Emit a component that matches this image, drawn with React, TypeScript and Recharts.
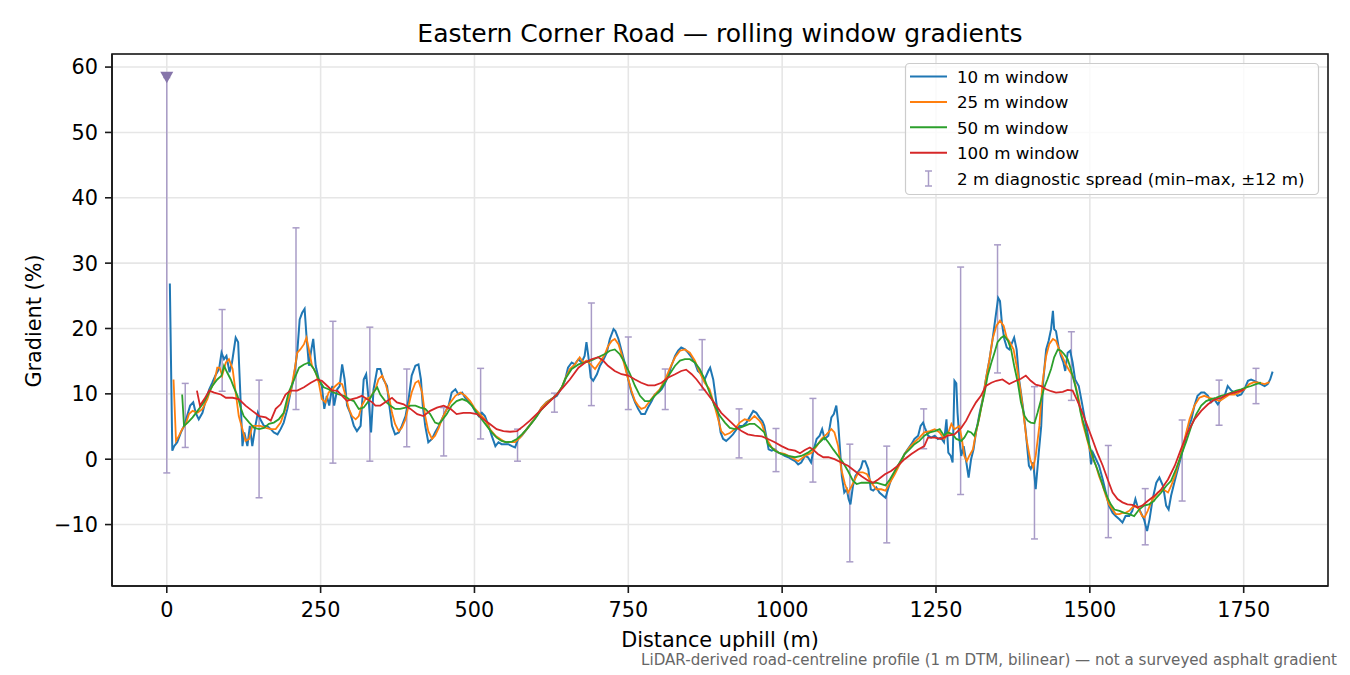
import React from 'react';
import { ComposedChart, Line, Scatter, ErrorBar, XAxis, YAxis, CartesianGrid } from 'recharts';

// 10 m window (blue)
const W10_X = [5, 9, 12, 17, 23, 28, 33, 38, 43, 47, 52, 58, 63, 69, 74, 79, 85, 89, 93, 97, 102, 106, 112, 116, 119, 123, 126, 131, 135, 139, 144, 148, 152, 158, 163, 169, 174, 180, 185, 190, 196, 201, 206, 212, 216, 220, 224, 227, 231, 235, 238, 242, 247, 252, 256, 260, 264, 269, 272, 277, 281, 285, 289, 293, 298, 304, 309, 315, 320, 324, 328, 332, 336, 342, 347, 352, 358, 361, 366, 371, 377, 382, 388, 393, 398, 404, 409, 413, 416, 420, 425, 431, 436, 442, 447, 452, 458, 463, 469, 474, 480, 485, 490, 496, 501, 507, 512, 517, 523, 528, 534, 539, 544, 550, 555, 561, 566, 571, 577, 585, 593, 601, 609, 617, 625, 634, 642, 647, 652, 658, 663, 669, 674, 679, 682, 685, 689, 693, 699, 704, 709, 715, 720, 726, 729, 734, 739, 744, 750, 755, 761, 766, 771, 777, 782, 788, 793, 799, 804, 809, 815, 820, 826, 831, 836, 842, 847, 853, 858, 863, 869, 874, 880, 883, 888, 893, 897, 900, 904, 909, 915, 920, 926, 931, 936, 942, 947, 953, 958, 963, 968, 971, 975, 978, 983, 988, 994, 999, 1004, 1010, 1015, 1021, 1026, 1031, 1037, 1042, 1047, 1050, 1056, 1061, 1065, 1069, 1075, 1080, 1084, 1088, 1091, 1094, 1097, 1101, 1105, 1108, 1111, 1115, 1119, 1123, 1128, 1131, 1135, 1140, 1144, 1148, 1153, 1158, 1164, 1168, 1172, 1177, 1183, 1188, 1194, 1199, 1204, 1210, 1215, 1221, 1225, 1229, 1232, 1237, 1242, 1248, 1253, 1258, 1263, 1267, 1270, 1274, 1277, 1280, 1283, 1285, 1288, 1291, 1295, 1299, 1303, 1307, 1311, 1315, 1321, 1326, 1331, 1337, 1342, 1347, 1351, 1354, 1357, 1361, 1365, 1369, 1374, 1377, 1381, 1385, 1391, 1396, 1401, 1404, 1408, 1412, 1417, 1421, 1424, 1429, 1433, 1437, 1440, 1442, 1445, 1449, 1453, 1457, 1460, 1464, 1468, 1472, 1476, 1482, 1487, 1492, 1498, 1502, 1505, 1510, 1515, 1521, 1526, 1531, 1537, 1542, 1548, 1553, 1558, 1564, 1569, 1574, 1577, 1583, 1588, 1593, 1597, 1602, 1608, 1613, 1619, 1624, 1628, 1632, 1638, 1643, 1648, 1654, 1659, 1665, 1670, 1675, 1681, 1686, 1692, 1697, 1702, 1708, 1713, 1719, 1724, 1730, 1735, 1740, 1746, 1751, 1757, 1762, 1767, 1773, 1778, 1784, 1789, 1793, 1797];
const W10_Y = [26.9, 1.3, 2.0, 2.6, 4.1, 5.1, 6.6, 8.2, 8.7, 7.1, 6.1, 7.1, 8.9, 10.7, 11.7, 12.8, 13.8, 16.3, 15.3, 15.8, 13.3, 14.8, 18.6, 17.9, 11.2, 2.0, 4.1, 2.0, 5.1, 2.0, 5.1, 7.1, 6.1, 5.1, 5.1, 4.6, 4.1, 3.8, 4.6, 5.6, 7.7, 10.2, 12.2, 16.3, 21.4, 22.4, 23.0, 18.9, 14.3, 16.8, 18.4, 14.3, 12.2, 11.2, 7.7, 9.7, 8.2, 11.2, 8.2, 10.7, 11.2, 14.5, 12.2, 8.2, 7.1, 5.1, 4.3, 5.1, 12.2, 13.0, 9.2, 4.1, 10.7, 13.8, 13.8, 12.2, 11.2, 8.7, 5.1, 3.8, 4.1, 5.1, 6.6, 9.2, 12.8, 14.3, 14.5, 12.2, 8.2, 5.1, 2.6, 3.1, 4.1, 5.1, 6.1, 7.1, 8.2, 10.2, 10.7, 9.9, 10.2, 9.4, 8.9, 8.2, 7.4, 6.6, 7.1, 6.6, 5.1, 3.6, 2.0, 2.6, 2.3, 2.3, 2.3, 2.0, 1.8, 3.1, 3.6, 4.6, 5.6, 6.6, 7.9, 8.7, 9.2, 9.7, 11.0, 12.0, 14.0, 14.8, 14.5, 15.3, 14.8, 15.8, 17.9, 15.8, 12.5, 12.0, 13.0, 14.3, 15.1, 16.3, 18.4, 19.9, 19.6, 18.4, 16.6, 14.8, 12.2, 10.2, 8.7, 7.7, 6.9, 6.9, 7.9, 8.9, 9.9, 10.2, 10.7, 11.5, 12.8, 14.3, 15.8, 16.6, 17.1, 16.8, 16.3, 15.6, 14.8, 13.5, 13.0, 12.2, 13.5, 14.0, 12.2, 8.7, 6.1, 4.1, 3.1, 2.8, 3.3, 3.8, 4.6, 5.1, 5.1, 5.6, 6.4, 7.4, 7.1, 6.4, 5.8, 5.1, 3.1, 1.5, 1.3, 1.5, 1.0, 0.8, 0.5, 0.3, 0.0, -0.3, -0.8, -0.5, 0.5, 0.3, -0.5, 1.0, 3.1, 3.6, 4.6, 3.1, 3.6, 6.4, 6.9, 8.2, 5.6, 1.5, -2.6, -5.1, -4.6, -6.1, -6.9, -4.1, -2.6, -2.0, -1.3, -0.3, -0.3, -1.5, -4.6, -4.8, -4.3, -5.1, -5.6, -5.9, -4.6, -3.1, -2.0, -1.0, -0.3, 0.8, 1.5, 2.3, 3.1, 3.6, 5.1, 5.6, 4.8, 3.6, 3.3, 3.6, 3.1, 3.3, 2.6, 6.1, 1.0, 0.5, -0.5, 12.0, 11.6, 7.1, 3.1, 0.5, 2.0, -0.3, -2.8, 0.0, 1.5, 4.1, 7.1, 9.2, 12.2, 15.3, 18.4, 21.9, 24.7, 24.2, 20.9, 18.4, 17.1, 16.8, 17.9, 18.6, 16.8, 12.2, 8.2, 4.1, -1.0, -1.5, -0.5, -4.6, 1.0, 5.1, 11.7, 16.8, 18.1, 19.9, 22.7, 19.9, 19.6, 17.3, 15.8, 14.8, 13.5, 16.3, 16.6, 14.8, 12.2, 11.2, 8.7, 6.1, 3.1, -0.8, 1.0, 0.0, -1.0, -3.1, -5.1, -7.1, -8.2, -8.7, -9.2, -9.7, -8.7, -8.7, -7.9, -6.1, -7.1, -8.2, -9.2, -11.0, -9.2, -6.1, -3.6, -2.8, -4.1, -7.1, -7.7, -5.6, -3.3, -1.5, 0.3, 2.6, 4.6, 6.1, 8.2, 9.7, 10.2, 10.2, 9.7, 8.7, 9.2, 8.4, 9.2, 9.7, 11.2, 10.5, 10.2, 9.7, 9.9, 10.7, 12.0, 12.2, 12.0, 11.7, 11.5, 11.2, 11.5, 12.2, 13.4];

// 25 m window (orange)
const W25_X = [11, 15, 20, 25, 31, 36, 42, 50, 58, 66, 71, 77, 82, 86, 90, 96, 101, 107, 112, 117, 123, 128, 134, 139, 146, 152, 161, 169, 177, 185, 193, 201, 208, 212, 217, 223, 227, 231, 236, 242, 247, 252, 258, 263, 269, 274, 280, 285, 290, 296, 301, 307, 312, 317, 323, 331, 339, 344, 350, 355, 361, 366, 371, 377, 382, 388, 393, 398, 404, 409, 415, 420, 425, 431, 436, 442, 447, 452, 461, 469, 477, 485, 493, 501, 509, 517, 525, 534, 542, 550, 558, 566, 574, 585, 593, 601, 609, 617, 625, 634, 642, 647, 655, 663, 671, 677, 682, 689, 696, 701, 707, 712, 717, 723, 728, 734, 739, 744, 750, 755, 761, 766, 771, 777, 785, 793, 801, 809, 817, 826, 834, 842, 850, 858, 866, 874, 882, 890, 896, 901, 907, 915, 923, 931, 939, 947, 955, 963, 967, 975, 983, 994, 1004, 1015, 1026, 1037, 1048, 1056, 1064, 1072, 1080, 1085, 1091, 1096, 1102, 1107, 1113, 1118, 1124, 1131, 1138, 1145, 1153, 1161, 1168, 1175, 1183, 1191, 1199, 1207, 1215, 1223, 1231, 1240, 1248, 1256, 1263, 1269, 1275, 1280, 1288, 1292, 1296, 1300, 1304, 1310, 1315, 1321, 1326, 1331, 1337, 1342, 1348, 1354, 1360, 1365, 1370, 1376, 1381, 1387, 1392, 1397, 1403, 1408, 1412, 1418, 1423, 1429, 1434, 1440, 1445, 1450, 1456, 1461, 1467, 1472, 1477, 1483, 1488, 1494, 1499, 1504, 1510, 1515, 1521, 1526, 1531, 1537, 1542, 1548, 1553, 1558, 1564, 1569, 1575, 1580, 1585, 1589, 1594, 1602, 1611, 1619, 1627, 1632, 1638, 1646, 1654, 1662, 1670, 1678, 1686, 1694, 1702, 1711, 1719, 1727, 1735, 1743, 1751, 1759, 1767, 1775, 1784, 1792];
const W25_Y = [12.2, 2.8, 3.6, 4.6, 5.4, 6.9, 7.4, 7.1, 7.7, 9.2, 10.7, 11.7, 14.0, 14.0, 12.8, 14.8, 15.3, 13.8, 10.2, 6.6, 4.6, 2.8, 3.1, 5.1, 5.1, 5.1, 4.8, 4.6, 4.6, 5.6, 7.7, 10.2, 13.8, 16.3, 16.8, 17.6, 18.6, 16.8, 14.3, 13.3, 11.7, 9.2, 8.7, 10.2, 10.7, 11.2, 11.7, 11.5, 9.9, 7.7, 6.6, 6.1, 6.6, 8.2, 9.2, 9.5, 10.7, 12.2, 12.8, 11.7, 9.7, 7.1, 5.4, 4.3, 4.8, 6.1, 8.2, 10.2, 11.7, 12.0, 10.2, 6.6, 4.3, 3.1, 3.6, 4.8, 6.1, 7.1, 8.7, 9.7, 10.2, 9.7, 8.9, 7.7, 6.9, 6.1, 4.6, 3.6, 3.1, 2.6, 2.6, 2.6, 3.3, 4.6, 5.6, 6.6, 7.9, 8.7, 9.2, 9.9, 11.0, 12.2, 13.8, 14.5, 15.6, 14.8, 15.1, 14.5, 13.8, 14.5, 15.3, 16.1, 17.3, 18.1, 18.4, 17.6, 16.1, 14.3, 12.2, 10.5, 8.9, 8.2, 7.7, 7.9, 8.9, 9.9, 10.7, 12.0, 13.8, 15.6, 16.6, 16.8, 16.3, 15.1, 13.3, 11.7, 10.7, 8.2, 6.1, 4.3, 3.7, 4.0, 4.6, 5.6, 6.1, 5.9, 6.6, 5.9, 5.4, 3.1, 1.8, 1.0, 0.8, 0.3, -0.3, 0.5, 1.0, 2.0, 3.1, 3.8, 4.6, 4.1, 2.0, -1.5, -3.8, -5.1, -4.1, -3.1, -2.0, -2.0, -2.3, -3.6, -4.6, -4.6, -4.8, -3.6, -2.3, -0.8, 0.8, 1.8, 2.6, 3.3, 4.1, 4.3, 4.6, 4.1, 3.1, 3.8, 5.4, 4.6, 5.1, 3.1, 0.5, -0.3, 0.5, 1.5, 4.1, 6.6, 9.2, 12.2, 15.3, 18.4, 20.4, 21.2, 20.4, 18.6, 17.9, 16.8, 14.3, 10.7, 7.1, 3.1, 0.0, -1.3, 0.5, 5.1, 11.7, 15.8, 17.6, 18.4, 18.1, 16.8, 15.6, 14.5, 13.5, 12.8, 11.2, 8.7, 5.6, 3.6, 1.8, 0.3, -1.0, -2.6, -4.1, -5.6, -6.9, -7.7, -8.4, -8.4, -8.2, -8.2, -7.9, -7.4, -7.1, -7.7, -8.7, -8.9, -7.9, -6.1, -5.1, -4.6, -5.1, -4.1, -2.6, 0.0, 3.1, 6.1, 8.2, 9.4, 9.7, 9.4, 9.2, 8.9, 9.4, 9.9, 9.9, 10.2, 10.7, 11.5, 11.8, 11.7, 11.5, 11.8];

// 50 m window (green)
const W50_X = [25, 28, 34, 42, 50, 58, 66, 74, 82, 89, 93, 98, 104, 109, 115, 120, 125, 134, 142, 150, 158, 166, 174, 182, 190, 198, 207, 215, 223, 231, 239, 247, 255, 263, 271, 280, 288, 296, 304, 312, 320, 328, 336, 342, 347, 355, 363, 371, 379, 388, 396, 404, 412, 420, 428, 436, 442, 447, 455, 463, 471, 480, 488, 496, 504, 512, 520, 528, 536, 544, 552, 561, 569, 577, 585, 597, 609, 621, 633, 642, 647, 658, 669, 680, 690, 701, 712, 720, 728, 736, 744, 753, 761, 769, 777, 785, 793, 801, 809, 817, 826, 834, 842, 850, 858, 866, 874, 882, 890, 899, 907, 915, 923, 931, 939, 947, 955, 963, 971, 977, 988, 999, 1010, 1021, 1031, 1042, 1053, 1061, 1069, 1075, 1083, 1091, 1099, 1107, 1115, 1121, 1129, 1137, 1145, 1153, 1161, 1168, 1175, 1183, 1191, 1199, 1207, 1215, 1223, 1231, 1240, 1248, 1256, 1263, 1269, 1277, 1283, 1291, 1296, 1302, 1307, 1312, 1318, 1323, 1329, 1334, 1340, 1345, 1350, 1356, 1361, 1367, 1372, 1377, 1383, 1388, 1394, 1399, 1404, 1410, 1415, 1421, 1426, 1431, 1437, 1442, 1448, 1453, 1458, 1464, 1469, 1475, 1480, 1485, 1491, 1496, 1502, 1507, 1512, 1518, 1523, 1529, 1534, 1540, 1548, 1556, 1564, 1572, 1580, 1588, 1596, 1604, 1608, 1616, 1624, 1632, 1640, 1648, 1657, 1665, 1673, 1681, 1689, 1697, 1705, 1713, 1721, 1730, 1738, 1746, 1754, 1762, 1770, 1778];
const W50_Y = [9.9, 5.1, 5.6, 6.4, 7.4, 8.4, 9.7, 11.2, 12.2, 12.8, 14.3, 13.3, 12.2, 11.0, 9.7, 7.9, 6.6, 5.6, 4.8, 4.6, 4.8, 5.4, 5.6, 6.1, 7.1, 10.2, 12.2, 14.0, 14.5, 14.8, 13.8, 12.2, 11.0, 10.7, 10.2, 9.9, 9.7, 9.2, 8.9, 7.7, 7.9, 8.9, 10.2, 11.0, 9.9, 8.9, 8.2, 7.7, 7.7, 7.9, 8.2, 8.2, 7.9, 7.7, 6.9, 5.6, 5.4, 5.9, 6.9, 8.2, 8.9, 9.2, 8.9, 8.2, 7.1, 6.1, 5.1, 4.1, 3.3, 2.8, 2.6, 2.7, 3.1, 3.8, 4.6, 6.0, 7.6, 8.8, 9.8, 11.0, 12.2, 13.8, 14.5, 14.8, 15.1, 15.6, 16.1, 16.6, 16.8, 16.1, 14.8, 13.0, 11.2, 9.7, 8.9, 8.9, 9.7, 10.5, 11.7, 13.0, 14.3, 15.1, 15.3, 15.3, 14.8, 13.8, 12.2, 10.2, 8.2, 6.6, 5.6, 4.8, 4.6, 4.8, 5.1, 5.4, 5.4, 4.8, 4.1, 2.3, 1.3, 0.8, 0.5, 0.3, 0.5, 1.0, 1.8, 2.6, 3.3, 2.6, 1.5, 0.5, -0.5, -1.8, -3.3, -3.8, -3.6, -3.6, -3.6, -3.6, -3.8, -4.0, -3.1, -1.8, -0.5, 0.8, 1.5, 2.3, 2.8, 3.6, 4.1, 4.3, 4.6, 3.6, 4.1, 3.8, 3.1, 2.8, 3.3, 4.3, 4.1, 3.6, 5.4, 7.7, 10.2, 12.8, 14.8, 16.3, 17.9, 18.6, 18.9, 18.1, 16.8, 14.3, 11.7, 8.7, 6.6, 5.9, 5.6, 5.5, 7.1, 9.2, 11.0, 12.2, 13.8, 15.6, 16.8, 16.6, 16.1, 15.3, 13.8, 11.7, 9.7, 7.1, 5.1, 3.1, 1.3, -0.3, -1.5, -3.1, -4.6, -5.9, -6.9, -7.7, -7.9, -8.2, -8.4, -8.7, -7.7, -7.1, -6.9, -6.4, -5.9, -5.1, -4.1, -3.3, -1.5, 0.5, 2.8, 5.1, 6.9, 8.2, 8.9, 9.2, 9.4, 9.7, 9.9, 10.2, 10.5, 10.7, 11.0, 11.2, 11.5, 11.7];

// 100 m window (red)
const W100_X = [49, 54, 61, 69, 77, 88, 96, 107, 117, 128, 139, 150, 161, 169, 177, 185, 193, 201, 212, 223, 234, 244, 252, 261, 269, 277, 285, 293, 301, 309, 317, 325, 334, 339, 347, 355, 366, 374, 385, 396, 407, 417, 428, 439, 450, 461, 471, 482, 493, 504, 515, 525, 536, 547, 558, 569, 580, 590, 601, 612, 623, 634, 644, 655, 669, 680, 690, 701, 709, 717, 728, 739, 750, 761, 771, 782, 793, 804, 815, 826, 836, 844, 853, 861, 869, 877, 885, 893, 901, 912, 923, 934, 944, 955, 967, 977, 988, 999, 1010, 1021, 1029, 1037, 1045, 1050, 1058, 1067, 1075, 1085, 1096, 1107, 1118, 1129, 1140, 1148, 1156, 1167, 1177, 1188, 1199, 1210, 1221, 1231, 1237, 1248, 1258, 1269, 1280, 1291, 1299, 1307, 1315, 1323, 1331, 1340, 1348, 1358, 1369, 1380, 1388, 1396, 1404, 1412, 1421, 1429, 1437, 1445, 1456, 1464, 1472, 1480, 1488, 1496, 1504, 1512, 1521, 1529, 1537, 1545, 1553, 1561, 1569, 1577, 1585, 1594, 1605, 1616, 1627, 1638, 1648, 1659, 1670, 1681, 1692, 1702, 1713, 1724, 1735, 1746, 1751];
const W100_Y = [10.5, 8.2, 9.2, 10.5, 10.2, 9.9, 9.4, 9.4, 9.2, 8.2, 7.4, 6.6, 6.4, 5.9, 7.7, 8.4, 9.9, 10.5, 10.5, 11.0, 11.7, 12.2, 12.0, 11.2, 10.5, 10.5, 9.7, 8.9, 9.2, 9.4, 9.7, 9.2, 8.7, 8.2, 8.2, 8.7, 9.4, 8.7, 8.4, 7.7, 6.9, 6.6, 7.4, 7.9, 8.2, 7.7, 6.9, 7.1, 7.1, 6.9, 6.1, 5.4, 4.6, 4.3, 4.2, 4.3, 5.1, 5.9, 6.9, 7.9, 8.9, 9.9, 11.0, 12.2, 14.0, 14.8, 15.3, 15.6, 15.1, 14.3, 13.5, 13.0, 12.8, 12.2, 11.7, 11.3, 11.3, 11.7, 12.5, 13.0, 13.5, 13.7, 13.0, 12.2, 11.2, 10.2, 9.2, 8.2, 7.1, 6.1, 5.1, 4.3, 3.8, 3.6, 3.5, 3.1, 2.6, 2.0, 1.5, 1.3, 0.9, 1.4, 1.8, 1.5, 0.8, 0.3, 0.3, 0.0, -0.5, -1.0, -1.8, -2.6, -3.3, -3.6, -3.1, -2.3, -1.8, -1.0, 0.0, 0.8, 1.5, 2.0, 3.3, 3.3, 3.1, 3.6, 3.8, 4.8, 5.9, 7.4, 8.7, 9.7, 11.2, 11.7, 12.0, 12.2, 11.5, 12.0, 12.3, 12.8, 12.0, 11.4, 11.2, 10.7, 10.4, 10.2, 10.3, 10.6, 10.5, 8.9, 7.1, 5.1, 3.1, 1.0, -1.0, -3.1, -5.1, -6.1, -6.6, -6.9, -7.0, -7.4, -7.1, -6.4, -5.6, -4.6, -3.1, -1.0, 1.5, 4.1, 6.1, 7.4, 8.4, 9.1, 9.4, 9.9, 10.2, 10.5, 10.7];

// 2 m diagnostic spread (min–max over ±12 m)
const SPREAD_X = [0, 30, 90, 150, 210, 270, 330, 390, 450, 510, 570, 630, 690, 750, 810, 870, 930, 990, 1050, 1110, 1170, 1230, 1290, 1350, 1410, 1470, 1530, 1590, 1650, 1710, 1770];
const SPREAD_MIN = [-2.1, 1.8, 10.4, -5.9, 7.6, -0.6, -0.3, 1.9, 0.5, 3.1, -0.3, 7.2, 8.2, 7.6, 7.6, 10.6, 0.2, -1.9, -3.5, -15.7, -12.8, 1.6, -5.4, 13.2, -12.2, 9.0, -12.0, -13.1, -6.4, 5.2, 8.5];
const SPREAD_MAX = [58.4, 11.6, 22.9, 12.1, 35.4, 21.1, 20.2, 13.8, 7.9, 13.9, 4.6, 10.1, 23.9, 18.7, 13.8, 18.3, 7.7, 4.7, 9.3, 2.3, 2.0, 7.7, 29.4, 32.8, 11.1, 19.5, 2.1, -4.5, 6.0, 12.1, 13.9];

// clipped spread marker
const CLIP_X = [0];
const CLIP_Y = [58.4];

const X_TICKS = [0, 250, 500, 750, 1000, 1250, 1500, 1750];
const Y_TICKS = [-10, 0, 10, 20, 30, 40, 50, 60];

const SERIES = [
  { name: '10 m window', color: '#1f77b4', width: 2.0, xs: W10_X, ys: W10_Y },
  { name: '25 m window', color: '#ff7f0e', width: 1.8, xs: W25_X, ys: W25_Y },
  { name: '50 m window', color: '#2ca02c', width: 1.8, xs: W50_X, ys: W50_Y },
  { name: '100 m window', color: '#d62728', width: 1.8, xs: W100_X, ys: W100_Y },
];

const SPREAD_COLOR = '#a99cc7';
const FONT = '"DejaVu Sans", sans-serif';

const toPoints = (xs: number[], ys: number[]) => xs.map((x, i) => ({ x, y: ys[i] }));

const spreadData = SPREAD_X.map((x, i) => ({
  x,
  y: SPREAD_MIN[i],
  err: [0, SPREAD_MAX[i] - SPREAD_MIN[i]],
}));

const fmt = (v: number) => (v < 0 ? '\u2212' + Math.abs(v) : String(v));

const DownTriangle = (props: any) => {
  const { cx, cy } = props;
  return (
    <polygon
      points={`${cx - 6.5},${cy - 5.8} ${cx + 6.5},${cy - 5.8} ${cx},${cy + 5.8}`}
      fill="#8675aa"
    />
  );
};

const Hidden = () => <g />;

export default function App() {
  const axisLine = { stroke: '#1a1a1a', strokeWidth: 1.6 };
  const tickStyle = { fontFamily: FONT, fontSize: 20.8, fill: '#000' };
  const legendRows = [83, 108.4, 133.8, 159.2];

  return (
    <div style={{ position: 'absolute', left: 0, top: 0, width: 1350, height: 675, background: '#fff' }}>
      <ComposedChart width={1350} height={675} margin={{ top: 54, right: 22, bottom: 49, left: 52 }}>
        <CartesianGrid stroke="#e6e6e6" strokeWidth={1.6} />
        <XAxis
          dataKey="x"
          type="number"
          domain={[-89, 1887]}
          allowDataOverflow
          ticks={X_TICKS}
          height={40}
          tickSize={7}
          tickMargin={9}
          tick={tickStyle}
          axisLine={axisLine}
          tickLine={axisLine}
        />
        <YAxis
          type="number"
          domain={[-19.4, 62]}
          allowDataOverflow
          ticks={Y_TICKS}
          tickFormatter={fmt}
          width={60}
          tickSize={7}
          tickMargin={7}
          tick={tickStyle}
          axisLine={axisLine}
          tickLine={axisLine}
        />
        <Scatter data={spreadData} dataKey="y" shape={Hidden} isAnimationActive={false}>
          <ErrorBar dataKey="err" direction="y" width={3.5} stroke={SPREAD_COLOR} strokeWidth={1.5} isAnimationActive={false} />
        </Scatter>
        <Scatter data={toPoints(CLIP_X, CLIP_Y)} dataKey="y" shape={DownTriangle} isAnimationActive={false} />
        {SERIES.map((s) => (
          <Line
            key={s.name}
            data={toPoints(s.xs, s.ys)}
            dataKey="y"
            type="linear"
            stroke={s.color}
            strokeWidth={s.width}
            dot={false}
            activeDot={false}
            isAnimationActive={false}
          />
        ))}
      </ComposedChart>

      <svg width={1350} height={675} style={{ position: 'absolute', left: 0, top: 0, pointerEvents: 'none' }} fontFamily={FONT}>
        {/* top and right spines */}
        <rect x={112} y={54} width={1216} height={532} fill="none" stroke="#1a1a1a" strokeWidth={1.6} />

        <text x={720} y={42} textAnchor="middle" fontSize={25} fill="#000">
          Eastern Corner Road — rolling window gradients
        </text>
        <text x={720} y={647} textAnchor="middle" fontSize={20.8} fill="#000">
          Distance uphill (m)
        </text>
        <text x={41} y={321} textAnchor="middle" fontSize={20.8} fill="#000" transform="rotate(-90 41 321)">
          Gradient (%)
        </text>
        <text x={1337} y={665} textAnchor="end" fontSize={15.1} fill="#666">
          LiDAR-derived road-centreline profile (1 m DTM, bilinear) — not a surveyed asphalt gradient
        </text>

        <rect x={905.5} y={63.5} width={413} height={131} rx={4} fill="#fff" fillOpacity={0.8} stroke="#cccccc" strokeWidth={1.2} />
        {SERIES.map((s, i) => (
          <g key={s.name}>
            <line x1={910} x2={947} y1={legendRows[i] - 6.5} y2={legendRows[i] - 6.5} stroke={s.color} strokeWidth={s.width + 0.2} />
            <text x={957} y={legendRows[i]} fontSize={16.7} fill="#000">
              {s.name}
            </text>
          </g>
        ))}
        <line x1={928.5} x2={928.5} y1={171} y2={186} stroke={SPREAD_COLOR} strokeWidth={1.5} />
        <line x1={925} x2={932} y1={171} y2={171} stroke={SPREAD_COLOR} strokeWidth={1.5} />
        <line x1={925} x2={932} y1={186} y2={186} stroke={SPREAD_COLOR} strokeWidth={1.5} />
        <text x={957} y={184.6} fontSize={16.7} fill="#000">
          2 m diagnostic spread (min–max, ±12 m)
        </text>
      </svg>
    </div>
  );
}
